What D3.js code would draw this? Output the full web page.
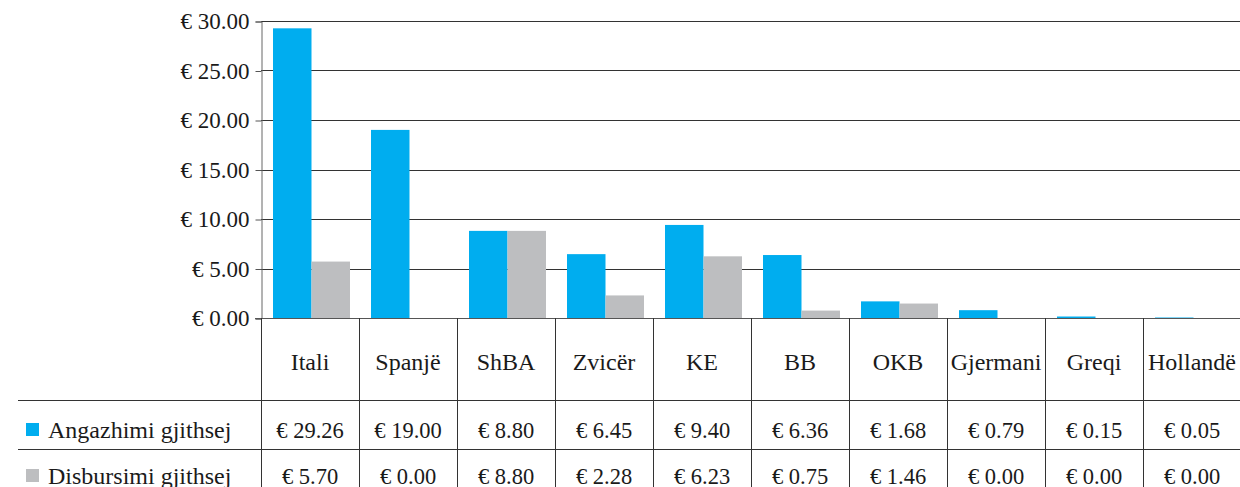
<!DOCTYPE html>
<html>
<head>
    <meta charset="utf-8" />
    <script src="https://d3js.org/d3.v7.min.js" charset="utf-8"></script>
    <title>Angazhimi dhe disbursimi</title>
    <style type="text/css">
        body { margin: 0; background: #fff; }
        svg text { font-family: "Liberation Serif", "DejaVu Serif", serif !important; fill: #1a1a1a; }
    </style>
</head>
<body>
    <div id="chart"></div>

    <script type="text/javascript">
        const categories = ["Itali", "Spanjë", "ShBA", "Zvicër", "KE", "BB", "OKB", "Gjermani", "Greqi", "Hollandë"];
        const seriesNames = ["Angazhimi gjithsej", "Disbursimi gjithsej"];
        const angazhimi = [29.26, 19.00, 8.80, 6.45, 9.40, 6.36, 1.68, 0.79, 0.15, 0.05];
        const disbursimi = [5.70, 0.00, 8.80, 2.28, 6.23, 0.75, 1.46, 0.00, 0.00, 0.00];
        const yTicks = [0, 5, 10, 15, 20, 25, 30];
        const colors = ["#00adef", "#bdbec0"];

        const width = 1240, height = 487;
        const svg = d3.select("#chart").append("svg")
            .attr("width", width).attr("height", height);

        const x = d3.scaleBand().domain(categories).range([261, 1241]);
        const xs = d3.scaleBand().domain(seriesNames).range([12, 89]);
        const y = d3.scaleLinear().domain([0, 30]).range([318, 21]);

        // grid lines
        svg.append("g").selectAll("line")
            .data(yTicks.filter(d => d > 0)).enter().append("line")
            .attr("x1", 261).attr("x2", width)
            .attr("y1", d => Math.round(y(d)) + 0.5).attr("y2", d => Math.round(y(d)) + 0.5)
            .attr("stroke", "#333").attr("stroke-width", 1);

        // bars
        const values = [angazhimi, disbursimi];
        seriesNames.forEach(function (s, i) {
            svg.append("g").selectAll("rect")
                .data(categories).enter().append("rect")
                .attr("x", c => x(c) + xs(s))
                .attr("width", xs.bandwidth())
                .attr("y", (c, j) => y(values[i][j]))
                .attr("height", (c, j) => y(0) - y(values[i][j]))
                .attr("fill", colors[i]);
        });

        // y axis
        const yAxis = d3.axisLeft(y).tickValues(yTicks)
            .tickFormat(d => "€ " + d.toFixed(2)).tickSize(6).tickPadding(6);
        const ya = svg.append("g").attr("transform", "translate(261.5,0.5)").call(yAxis);
        ya.attr("font-family", null).attr("font-size", null);
        ya.select(".domain").attr("stroke", "#666");
        ya.selectAll(".tick line").attr("stroke", "#555");
        ya.selectAll(".tick text").style("font-size", "23px");

        // baseline
        svg.append("line").attr("x1", 255).attr("x2", width)
            .attr("y1", 318.5).attr("y2", 318.5).attr("stroke", "#555");

        // data table
        const rowLines = [400.5, 449.5];
        svg.append("g").selectAll("line")
            .data(rowLines).enter().append("line")
            .attr("x1", 18).attr("x2", width)
            .attr("y1", d => d).attr("y2", d => d)
            .attr("stroke", "#333");

        svg.append("g").selectAll("line")
            .data(categories).enter().append("line")
            .attr("x1", c => Math.round(x(c)) + 0.5).attr("x2", c => Math.round(x(c)) + 0.5)
            .attr("y1", 318).attr("y2", height)
            .attr("stroke", "#333");

        svg.append("g").selectAll("text")
            .data(categories).enter().append("text")
            .attr("x", c => x(c) + x.bandwidth() / 2)
            .attr("y", 370)
            .attr("text-anchor", "middle")
            .style("font-size", "24px")
            .text(c => c);

        const rowBase = [438, 484];
        values.forEach(function (vals, i) {
            svg.append("g").selectAll("text")
                .data(categories).enter().append("text")
                .attr("x", c => x(c) + x.bandwidth() / 2)
                .attr("y", rowBase[i])
                .attr("text-anchor", "middle")
                .style("font-size", "22.5px")
                .text((c, j) => "€ " + vals[j].toFixed(2));

            svg.append("rect")
                .attr("x", 26).attr("y", rowBase[i] - 15)
                .attr("width", 13).attr("height", 13)
                .attr("fill", colors[i]);

            svg.append("text")
                .attr("x", 48).attr("y", rowBase[i])
                .style("font-size", "24px")
                .text(seriesNames[i]);
        });
    </script>
</body>
</html>
